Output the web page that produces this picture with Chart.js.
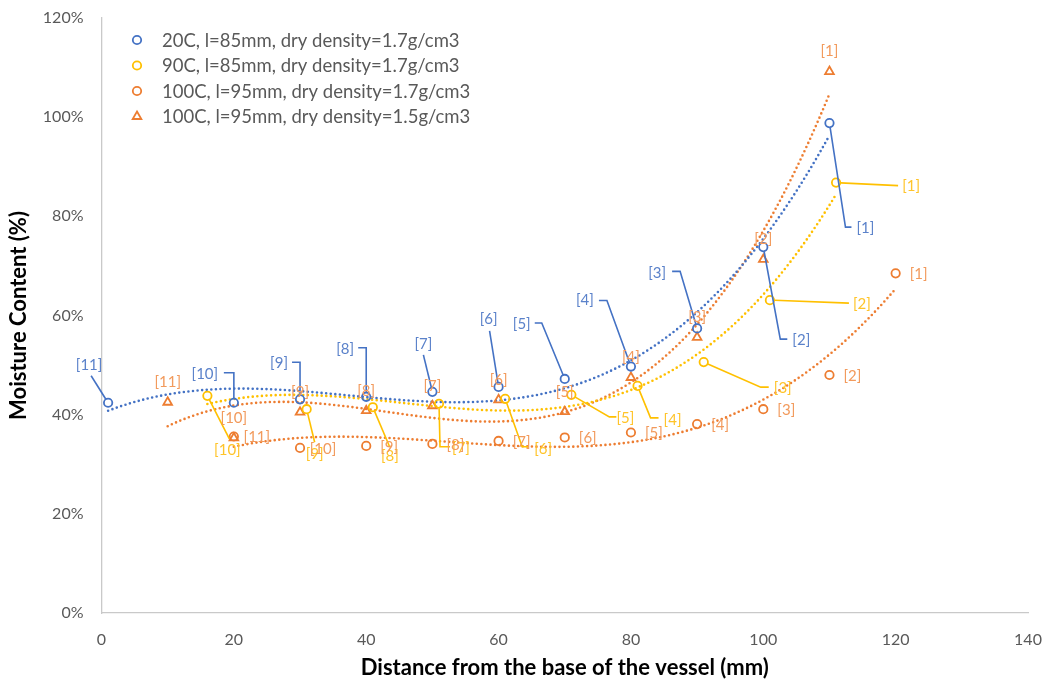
<!DOCTYPE html>
<html>
<head>
<meta charset="utf-8">
<script src="https://cdn.jsdelivr.net/npm/chart.js@4/dist/chart.umd.min.js"></script>
<style>
  html, body { margin: 0; padding: 0; background: #ffffff; }
  #wrap { width: 1048px; height: 684px; }
</style>
</head>
<body>
<div id="wrap"><canvas id="c" width="1048" height="684"></canvas></div>
<script>
// Moisture content profiles along the vessel height
const seriesNames = [
  '20C, l=85mm, dry density=1.7g/cm3',
  '90C, l=85mm, dry density=1.7g/cm3',
  '100C, l=95mm, dry density=1.7g/cm3',
  '100C, l=95mm, dry density=1.5g/cm3'
];

const dist20C = [1, 20, 30, 40, 50, 60, 70, 80, 90, 100, 110];
const mc20C   = [42.4, 42.4, 43.1, 43.6, 44.6, 45.6, 47.2, 49.7, 57.4, 73.8, 98.8];

const dist90C = [16, 31, 41, 51, 61, 71, 81, 91, 101, 111];
const mc90C   = [43.8, 41.1, 41.5, 42.2, 43.2, 44.0, 45.8, 50.6, 63.1, 86.8];

const dist100C17 = [20, 30, 40, 50, 60, 70, 80, 90, 100, 110, 120];
const mc100C17   = [35.6, 33.3, 33.7, 34.1, 34.7, 35.4, 36.4, 38.1, 41.1, 48.0, 68.5];

const dist100C15 = [10, 20, 30, 40, 50, 60, 70, 80, 90, 100, 110];
const mc100C15   = [42.5, 35.3, 40.5, 40.8, 41.8, 43.0, 40.6, 47.5, 55.6, 71.3, 109.2];

const xTicks = [0, 20, 40, 60, 80, 100, 120, 140];
const yTicks = [0, 20, 40, 60, 80, 100, 120];

const FONT = 'Lato, "Open Sans", sans-serif';
const BLUE = '#4472C4', GOLD = '#FFC000', ORANGE = '#ED7D31';

// Third-order polynomial least-squares fit (trendline)
function polyFit(xs, ys, order) {
  const n = order + 1;
  const A = Array.from({ length: n }, () => new Array(n + 1).fill(0));
  for (let k = 0; k < xs.length; k++) {
    for (let i = 0; i < n; i++) {
      for (let j = 0; j < n; j++) A[i][j] += Math.pow(xs[k], i + j);
      A[i][n] += ys[k] * Math.pow(xs[k], i);
    }
  }
  for (let c = 0; c < n; c++) {
    let p = c;
    for (let r = c + 1; r < n; r++) if (Math.abs(A[r][c]) > Math.abs(A[p][c])) p = r;
    [A[c], A[p]] = [A[p], A[c]];
    for (let r = 0; r < n; r++) {
      if (r === c) continue;
      const f = A[r][c] / A[c][c];
      for (let j = c; j <= n; j++) A[r][j] -= f * A[c][j];
    }
  }
  return A.map((row, i) => row[n] / row[i]);
}
function trendPoints(xs, ys) {
  const coef = polyFit(xs, ys, 3);
  const lo = Math.min(...xs), hi = Math.max(...xs);
  const pts = [];
  for (let x = lo; x <= hi + 1e-9; x += 0.5) {
    let y = 0;
    for (let i = 0; i < coef.length; i++) y += coef[i] * Math.pow(x, i);
    pts.push({ x, y });
  }
  return pts;
}
const toXY = (xs, ys) => xs.map((x, i) => ({ x, y: ys[i] }));

// Label placement: offsets (px) of the label centre from its point,
// plus the leader-line bends, both relative to the point.
const labelStyle = [
  { color: '#5B82CA', leader: BLUE,
    place: [
      { l: [-19, -38], p: [[-17, -27]] },
      { l: [-29, -29], p: [[0, -30], [-10, -30]] },
      { l: [-21, -36], p: [[0, -37], [-8, -37]] },
      { l: [-21, -48], p: [[0, -49], [-8, -49]] },
      { l: [-9, -48],  p: [[-9, -37]] },
      { l: [-10, -68], p: [[-9, -56]] },
      { l: [-43, -55], p: [[-23, -56], [-30, -56]] },
      { l: [-46, -66], p: [[-24, -66], [-32, -66]] },
      { l: [-40, -55], p: [[-17, -57], [-25, -57]] },
      { l: [38, 93],   p: [[17, 92], [24, 92]] },
      { l: [36, 105],  p: [[16, 104], [22, 104]] }
    ] },
  { color: '#FFC42A', leader: GOLD,
    place: [
      { l: [20, 54], p: [[22, 43]] },
      { l: [8, 45],  p: [[8, 33]] },
      { l: [17, 49], p: [[17, 40]] },
      { l: [22, 44], p: [[1, 43], [11, 43]] },
      { l: [38, 50], p: [[17, 48], [23, 48]] },
      { l: [54, 23], p: [[38, 22], [45, 22]] },
      { l: [35, 34], p: [[13, 32], [21, 32]] },
      { l: [79, 26], p: [[57, 25], [65, 25]] },
      { l: [92, 4],  p: [[79, 3]] },
      { l: [75, 4],  p: [[62, 3]] }
    ] },
  { color: '#F29A5C', leader: null, offset: [23, 1] },
  { color: '#F29A5C', leader: null, offset: [0, -20] }
];

const pointSets = [
  { xs: dist20C, ys: mc20C, color: BLUE, style: 'circle' },
  { xs: dist90C, ys: mc90C, color: GOLD, style: 'circle' },
  { xs: dist100C17, ys: mc100C17, color: ORANGE, style: 'circle' },
  { xs: dist100C15, ys: mc100C15, color: ORANGE, style: 'triangle' }
];

const datasets = [];
pointSets.forEach((s, i) => {
  datasets.push({
    label: seriesNames[i],
    data: toXY(s.xs, s.ys),
    showLine: false,
    pointStyle: s.style,
    pointRadius: s.style === 'triangle' ? 5 : 4.2,
    pointBorderWidth: 1.8,
    pointBorderColor: s.color,
    pointBackgroundColor: 'rgba(255,255,255,0)',
    order: 1
  });
});
pointSets.forEach((s, i) => {
  datasets.push({
    label: 'trend ' + i,
    data: trendPoints(s.xs, s.ys),
    showLine: true,
    pointRadius: 0,
    borderColor: s.color,
    borderWidth: 2.6,
    borderDash: [0, 4.6],
    borderCapStyle: 'round',
    tension: 0,
    order: 2
  });
});

const pointLabels = {
  id: 'pointLabels',
  afterDatasetsDraw(chart) {
    const ctx = chart.ctx;
    ctx.save();
    ctx.font = '15px ' + FONT;
    ctx.textAlign = 'center';
    ctx.textBaseline = 'middle';
    labelStyle.forEach((st, di) => {
      const meta = chart.getDatasetMeta(di);
      const n = meta.data.length;
      meta.data.forEach((el, i) => {
        const px = el.x, py = el.y;
        let lx, ly;
        if (st.place) {
          const pl = st.place[i];
          lx = px + pl.l[0]; ly = py + pl.l[1];
          // leader line from the marker edge through its bends
          const first = pl.p[0];
          const len = Math.hypot(first[0], first[1]) || 1;
          const r = 4.5;
          ctx.beginPath();
          ctx.moveTo(px + first[0] / len * r, py + first[1] / len * r);
          pl.p.forEach(q => ctx.lineTo(px + q[0], py + q[1]));
          ctx.strokeStyle = st.leader;
          ctx.lineWidth = 1.6;
          ctx.setLineDash([]);
          ctx.stroke();
        } else {
          lx = px + st.offset[0]; ly = py + st.offset[1];
        }
        ctx.fillStyle = st.color;
        ctx.fillText('[' + (n - i) + ']', lx, ly);
      });
    });
    ctx.restore();
  }
};

const insideLegend = {
  id: 'insideLegend',
  afterDraw(chart) {
    const ctx = chart.ctx;
    ctx.save();
    const x0 = 137, y0 = 40, step = 25.5;
    pointSets.forEach((s, i) => {
      const y = y0 + i * step;
      ctx.strokeStyle = s.color;
      ctx.lineWidth = 1.8;
      ctx.beginPath();
      if (s.style === 'triangle') {
        const r = 5;
        ctx.moveTo(x0, y - r);
        ctx.lineTo(x0 + r * 0.866, y + r * 0.5);
        ctx.lineTo(x0 - r * 0.866, y + r * 0.5);
        ctx.closePath();
      } else {
        ctx.arc(x0, y, 4.2, 0, Math.PI * 2);
      }
      ctx.stroke();
      ctx.fillStyle = '#595959';
      ctx.font = '18.5px ' + FONT;
      ctx.textAlign = 'left';
      ctx.textBaseline = 'middle';
      ctx.fillText(seriesNames[i], 162, y + 1);
    });
    ctx.restore();
  }
};

new Chart(document.getElementById('c'), {
  type: 'scatter',
  data: { datasets },
  plugins: [pointLabels, insideLegend],
  options: {
    responsive: false,
    animation: false,
    layout: { padding: { top: 18, right: 20, left: 0, bottom: 0 } },
    plugins: { legend: { display: false }, tooltip: { enabled: false } },
    scales: {
      x: {
        type: 'linear', min: 0, max: 140,
        afterBuildTicks: s => { s.ticks = xTicks.map(v => ({ value: v })); },
        ticks: { color: '#595959', font: { family: FONT, size: 16 }, padding: 17 },
        grid: { drawOnChartArea: false, drawTicks: false },
        border: { color: '#C9C9C9', width: 1.3 },
        title: { display: true, text: 'Distance from the base of the vessel (mm)', color: '#000000',
                 font: { family: FONT, size: 22, weight: 'bold' }, padding: { top: 0, bottom: 3 } },
        afterFit: s => { s.height = 71; s.paddingLeft = 0; s.paddingRight = 0; }
      },
      y: {
        type: 'linear', min: 0, max: 120,
        afterBuildTicks: s => { s.ticks = yTicks.map(v => ({ value: v })); },
        ticks: { color: '#595959', font: { family: FONT, size: 16 }, padding: 18, callback: v => v + '%' },
        grid: { drawOnChartArea: false, drawTicks: false },
        border: { color: '#C9C9C9', width: 1.3 },
        title: { display: true, text: 'Moisture Content (%)', color: '#000000',
                 font: { family: FONT, size: 22, weight: 'bold' }, padding: { top: 6, bottom: 0 } },
        afterFit: s => { s.width = 101.5; s.paddingTop = 0; s.paddingBottom = 0; }
      }
    }
  }
});
</script>
</body>
</html>
